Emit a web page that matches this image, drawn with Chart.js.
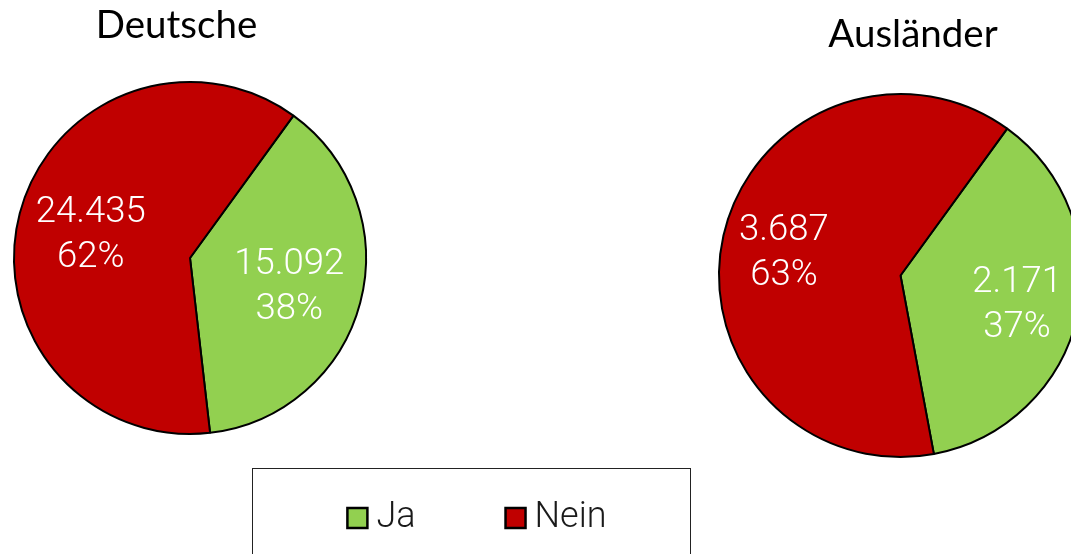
<!DOCTYPE html>
<html><head><meta charset="utf-8">
<script src="https://cdn.jsdelivr.net/npm/chart.js@4.4.0/dist/chart.umd.min.js"></script>
<style>
html,body{margin:0;padding:0;background:#fff;overflow:hidden;width:1071px;height:554px;position:relative}
canvas{position:absolute}
#box{position:absolute;left:252px;top:468px;width:439px;height:120px;border:1.5px solid #222;box-sizing:border-box}
</style></head><body>
<div id="box"></div>
<canvas id="c1" width="1071" height="554" style="left:0;top:0"></canvas>
<canvas id="c2" width="1100" height="554" style="left:0;top:0"></canvas>
<canvas id="lg" width="963" height="600" style="left:0;top:401px"></canvas>
<script>
const categories = ['Ja', 'Nein'];
const titles = ['Deutsche', 'Ausländer'];
const deutscheValues = [15092, 24435];
const auslaenderValues = [2171, 3687];
const sliceColors = ['#92D050', '#C00000'];

function fmt(v) { return String(v).replace(/\B(?=(\d{3})+(?!\d))/g, '.'); }

const pieText = {
  id: 'pieText',
  afterDatasetsDraw(chart, args, opts) {
    if (!opts || !opts.title) return;
    const ctx = chart.ctx;
    const meta = chart.getDatasetMeta(0);
    const data = chart.data.datasets[0].data;
    const total = data.reduce((a, b) => a + b, 0);
    ctx.save();
    ctx.font = opts.font;
    ctx.fillStyle = opts.color;
    ctx.textAlign = 'center';
    ctx.textBaseline = 'alphabetic';
    meta.data.forEach((arc, i) => {
      const p = arc.getProps(['x', 'y', 'startAngle', 'endAngle', 'outerRadius'], true);
      const mid = (p.startAngle + p.endAngle) / 2;
      const r = (p.outerRadius + 1) * opts.factor;
      const cx = p.x + Math.cos(mid) * r;
      const cy = p.y + Math.sin(mid) * r;
      const lines = [fmt(data[i]), Math.round(data[i] / total * 100) + '%'];
      lines.forEach((t, j) => {
        ctx.fillText(t, cx, cy + (j - 0.5) * opts.lineGap + opts.capHalf);
      });
    });
    ctx.font = opts.titleFont;
    ctx.fillStyle = '#000';
    ctx.fillText(opts.title, opts.titleX, opts.titleY);
    ctx.restore();
  }
};

function makePie(id, values, title, padding, factor, titleX, titleY) {
  return new Chart(document.getElementById(id), {
    type: 'pie',
    data: {
      labels: categories,
      datasets: [{
        data: values,
        backgroundColor: sliceColors,
        borderColor: '#000',
        borderWidth: 2,
        hoverOffset: 0
      }]
    },
    options: {
      responsive: false,
      animation: false,
      events: [],
      rotation: 36,
      layout: { padding: padding },
      plugins: {
        legend: { display: false },
        tooltip: { enabled: false },
        pieText: {
          title: title,
          titleX: titleX,
          titleY: titleY,
          titleFont: '38.5px Lato',
          font: '300 36.5px Roboto',
          color: '#fff',
          factor: factor,
          lineGap: 45,
          capHalf: 12.9
        }
      }
    },
    plugins: [pieText]
  });
}

makePie('c1', deutscheValues, titles[0], { left: 13, top: 81, right: 1071 - 367, bottom: 554 - 435 }, 0.58, 176.5, 38);
makePie('c2', auslaenderValues, titles[1], { left: 718, top: 93, right: 1100 - 1083, bottom: 554 - 458 }, 0.655, 913, 47);

new Chart(document.getElementById('lg'), {
  type: 'pie',
  data: {
    labels: categories,
    datasets: [{
      data: deutscheValues,
      backgroundColor: sliceColors,
      borderColor: '#000',
      borderWidth: 2.5,
      hoverOffset: 0,
      hidden: true
    }]
  },
  options: {
    responsive: false,
    animation: false,
    events: [],
    plugins: {
      tooltip: { enabled: false },
      legend: {
        display: true,
        position: 'top',
        labels: {
          usePointStyle: true,
          pointStyle: 'rect',
          boxWidth: 2,
          boxHeight: 20,
          padding: 99,
          color: '#1a1a1a',
          font: { family: 'Roboto', weight: '300', size: 36 }
        }
      }
    }
  }
});
</script>
</body></html>
